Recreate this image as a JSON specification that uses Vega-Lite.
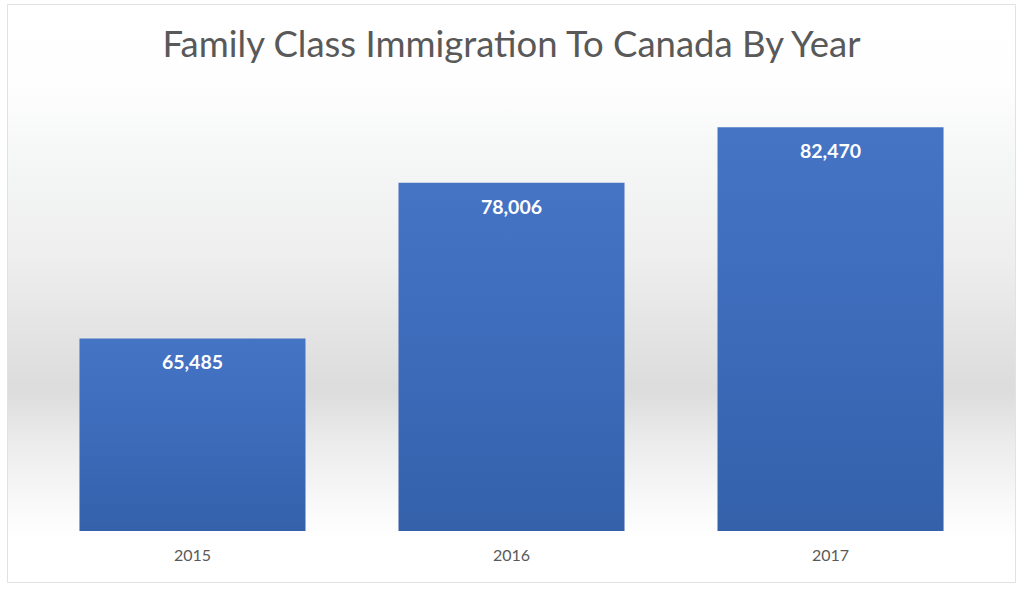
{
  "$schema": "https://vega.github.io/schema/vega-lite/v6.json",
  "autosize": {"type": "none"},
  "width": 1007,
  "height": 577,
  "padding": {"left": 8, "top": 5, "right": 9, "bottom": 10},
  "background": "white",
  "title": {
    "text": "Family Class Immigration To Canada By Year",
    "font": "Lato",
    "fontSize": 36.5,
    "fontWeight": "normal",
    "color": "#595959",
    "anchor": "middle",
    "baseline": "top",
    "offset": -59
  },
  "data": {
    "values": [
      {"year": "2015", "immigrants": 65485},
      {"year": "2016", "immigrants": 78006},
      {"year": "2017", "immigrants": 82470}
    ]
  },
  "layer": [
    {
      "mark": {
        "type": "rect",
        "color": {
          "gradient": "linear",
          "x1": 0, "y1": 0, "x2": 0, "y2": 1,
          "stops": [
            {"offset": 0, "color": "#ffffff"},
            {"offset": 0.139, "color": "#fefefe"},
            {"offset": 0.269, "color": "#f5f6f6"},
            {"offset": 0.442, "color": "#eeeeee"},
            {"offset": 0.563, "color": "#e4e4e4"},
            {"offset": 0.667, "color": "#dcdcdc"},
            {"offset": 0.754, "color": "#ebebeb"},
            {"offset": 0.858, "color": "#f8f8f8"},
            {"offset": 0.927, "color": "#ffffff"},
            {"offset": 1, "color": "#ffffff"}
          ]
        }
      },
      "encoding": {
        "y": {
          "datum": 92300,
          "type": "quantitative",
          "scale": {"domain": [45900, 92300], "zero": false, "nice": false},
          "axis": null
        },
        "y2": {"datum": 45900}
      }
    },
    {
      "mark": {
        "type": "bar",
        "color": {
          "gradient": "linear",
          "x1": 0, "y1": 0, "x2": 0, "y2": 1,
          "stops": [
            {"offset": 0, "color": "#4674c4"},
            {"offset": 0.4, "color": "#3f6dbd"},
            {"offset": 1, "color": "#3461aa"}
          ]
        }
      },
      "encoding": {
        "x": {
          "field": "year",
          "type": "nominal",
          "title": null,
          "scale": {"paddingInner": 0.2915, "paddingOuter": 0.224},
          "axis": {
            "orient": "bottom",
            "offset": -37,
            "zindex": 1,
            "domain": false,
            "ticks": false,
            "labelAngle": 0,
            "labelFont": "Lato",
            "labelFontSize": 16,
            "labelColor": "#595959",
            "labelPadding": 2
          }
        },
        "y": {
          "field": "immigrants",
          "type": "quantitative",
          "scale": {"domain": [45900, 92300], "zero": false, "nice": false},
          "axis": null
        },
        "y2": {"datum": 50000}
      }
    },
    {
      "mark": {
        "type": "text",
        "color": "white",
        "font": "Lato",
        "fontSize": 19.5,
        "fontWeight": "bold",
        "baseline": "middle",
        "dy": 25
      },
      "encoding": {
        "x": {"field": "year", "type": "nominal"},
        "y": {"field": "immigrants", "type": "quantitative"},
        "text": {"field": "immigrants", "type": "quantitative", "format": ",d"}
      }
    }
  ],
  "config": {
    "view": {"stroke": "#d9d9d9", "strokeWidth": 1.5}
  }
}
